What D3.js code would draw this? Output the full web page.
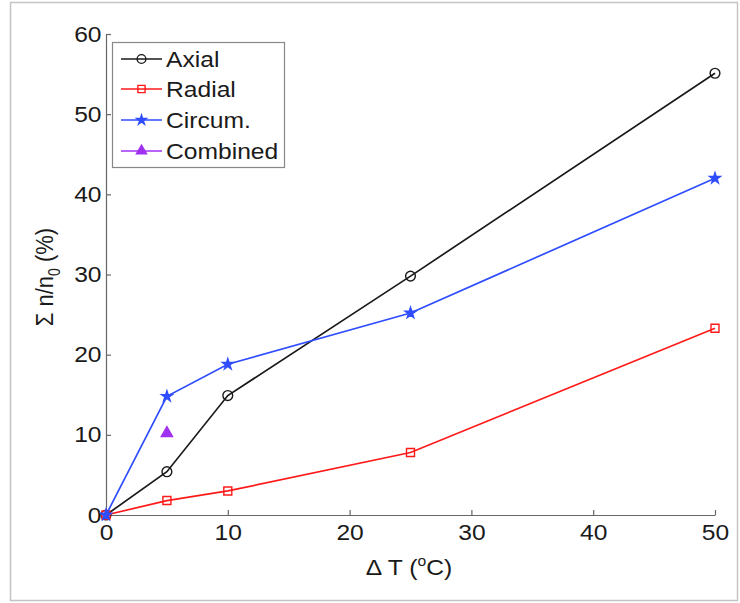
<!DOCTYPE html>
<html>
<head>
<meta charset="utf-8">
<script src="https://cdn.jsdelivr.net/npm/d3@7"></script>
<style>
  body { margin: 0; background: #fff; }
  text { font-family: "Liberation Sans", Arial, Helvetica, sans-serif; fill: #1a1a1a; }
</style>
</head>
<body>
<script>
// values
var deltaT = [0, 5, 10, 25, 50];
var axial = [0, 5.4, 14.9, 29.8, 55.1];
var radial = [0, 1.8, 3.0, 7.8, 23.3];
var circum = [0, 14.8, 18.8, 25.2, 42.0];
var combinedT = [5];
var combined = [10.2];
var xTicks = [0, 10, 20, 30, 40, 50];
var yTicks = [0, 10, 20, 30, 40, 50, 60];
var legendNames = ["Axial", "Radial", "Circum.", "Combined"];

var width = 740, height = 603;
var stretch = "scale(1.12,1)";

var svg = d3.select("body").append("svg")
    .attr("width", width)
    .attr("height", height);

// outer frame
svg.append("rect")
    .attr("x", 10.5).attr("y", 2.5)
    .attr("width", 727).attr("height", 598)
    .attr("fill", "none")
    .attr("stroke", "#c4c4c4")
    .attr("stroke-width", 1.5);

var x = d3.scaleLinear().domain([0, 50]).range([106, 715]);
var y = d3.scaleLinear().domain([0, 60]).range([515, 34]);

var gx = svg.append("g")
    .attr("transform", "translate(0," + y(0) + ")")
    .call(d3.axisBottom(x).tickValues(xTicks).tickSizeInner(-5).tickSizeOuter(0).tickPadding(9));
var gy = svg.append("g")
    .attr("transform", "translate(" + x(0) + ",0)")
    .call(d3.axisLeft(y).tickValues(yTicks).tickSizeInner(-5).tickSizeOuter(0).tickPadding(4));

[gx, gy].forEach(function(g) {
  g.select(".domain").attr("stroke", "#666").attr("stroke-width", 1.2);
  g.selectAll(".tick line").attr("stroke", "#666").attr("stroke-width", 1.2);
  g.selectAll(".tick text")
    .attr("font-size", 22)
    .attr("font-family", "Liberation Sans, Arial, sans-serif")
    .attr("fill", "#1a1a1a")
    .attr("transform", stretch);
});

// axis titles
var xl = svg.append("text")
    .attr("text-anchor", "middle")
    .attr("font-size", 22)
    .attr("transform", "translate(409,575) " + stretch);
xl.append("tspan").text("\u0394 T (");
xl.append("tspan").attr("font-size", 14).attr("dy", -9).text("o");
xl.append("tspan").attr("dy", 9).text("C)");

var yl = svg.append("text")
    .attr("text-anchor", "middle")
    .attr("font-size", 22)
    .attr("transform", "translate(53,277) " + stretch + " rotate(-90)");
yl.append("tspan").text("\u03A3 n/n");
yl.append("tspan").attr("font-size", 14).attr("dy", 6).text("0");
yl.append("tspan").attr("dy", -6).text(" (%)");

// series
var series = [
  {name: legendNames[0], xs: deltaT, ys: axial, color: "#1a1a1a", sym: d3.symbolCircle, size: 75, fill: false},
  {name: legendNames[1], xs: deltaT, ys: radial, color: "#ff1a1a", sym: d3.symbolSquare, size: 64, fill: false},
  {name: legendNames[2], xs: deltaT, ys: circum, color: "#2f4dff", sym: d3.symbolStar, size: 36, fill: true},
  {name: legendNames[3], xs: combinedT, ys: combined, color: "#a030f0", sym: d3.symbolTriangle, size: 55, fill: true}
];

var line = d3.line()
    .x(function(d) { return x(d[0]); })
    .y(function(d) { return y(d[1]); });

series.forEach(function(s) {
  var pts = s.xs.map(function(v, i) { return [v, s.ys[i]]; });
  if (pts.length > 1) {
    svg.append("path")
      .datum(pts)
      .attr("d", line)
      .attr("fill", "none")
      .attr("stroke", s.color)
      .attr("stroke-width", 1.7);
  }
  svg.selectAll(null)
    .data(pts)
    .enter().append("path")
    .attr("d", d3.symbol().type(s.sym).size(s.size))
    .attr("transform", function(d) { return "translate(" + x(d[0]) + "," + y(d[1]) + ")"; })
    .attr("fill", s.fill ? s.color : "none")
    .attr("stroke", s.color)
    .attr("stroke-width", 1.4);
});

// legend
var lg = svg.append("g");
lg.append("rect")
    .attr("x", 112.5).attr("y", 42.5)
    .attr("width", 172).attr("height", 125)
    .attr("fill", "#fff")
    .attr("stroke", "#888")
    .attr("stroke-width", 1.2);

var rowY = [59, 89, 120, 151];
series.forEach(function(s, i) {
  var g = lg.append("g").attr("transform", "translate(0," + rowY[i] + ")");
  g.append("line")
    .attr("x1", 121).attr("x2", 162)
    .attr("stroke", s.color).attr("stroke-width", 1.7);
  g.append("path")
    .attr("d", d3.symbol().type(s.sym).size(s.size * 0.8))
    .attr("transform", "translate(141.5,0)")
    .attr("fill", s.fill ? s.color : "none")
    .attr("stroke", s.color)
    .attr("stroke-width", 1.4);
  g.append("text")
    .attr("font-size", 22)
    .attr("dy", "0.36em")
    .attr("transform", "translate(166,0) " + stretch)
    .text(s.name);
});
</script>
</body>
</html>
